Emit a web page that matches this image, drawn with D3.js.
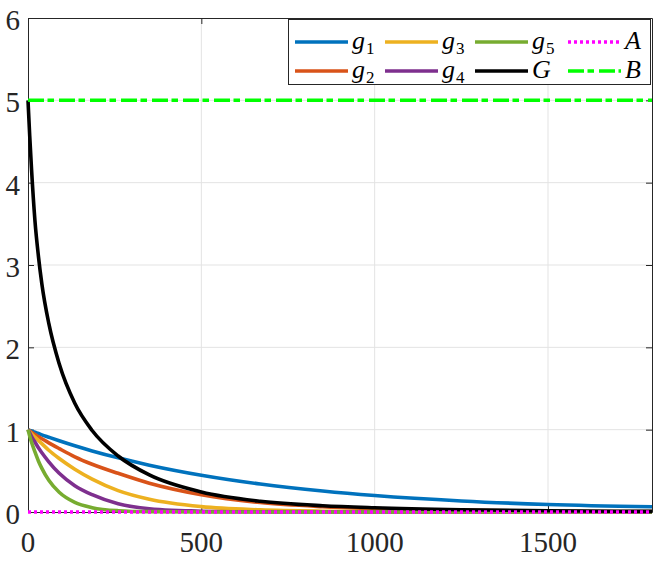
<!DOCTYPE html>
<html>
<head>
<meta charset="utf-8">
<script src="https://cdn.jsdelivr.net/npm/d3@7"></script>
<style>
  body { margin: 0; background: #fff; }
  svg { display: block; }
</style>
</head>
<body>
<svg width="653" height="561"></svg>
<script>
var serif = "'Liberation Serif', 'Times New Roman', Times, serif";

// sample points along x (time)
var xs = [0, 5, 10, 20, 30, 40, 60, 90, 135, 185, 260, 350, 500, 670, 850, 1000, 1250, 1500, 1800];
// values
var g1 = [1, 0.992, 0.984, 0.968, 0.953, 0.937, 0.908, 0.865, 0.804, 0.742, 0.658, 0.569, 0.447, 0.34, 0.255, 0.2, 0.134, 0.091, 0.063];
var g2 = [1, 0.985, 0.97, 0.94, 0.915, 0.89, 0.84, 0.77, 0.67, 0.58, 0.47, 0.35, 0.21, 0.115, 0.065, 0.04, 0.02, 0.009, 0.004];
var g3 = [1, 0.975, 0.95, 0.91, 0.87, 0.83, 0.75, 0.65, 0.52, 0.40, 0.26, 0.155, 0.065, 0.026, 0.0097, 0.0042, 0.001, 0.0003, 0];
var g4 = [1, 0.96, 0.92, 0.85, 0.78, 0.72, 0.61, 0.47, 0.32, 0.21, 0.10, 0.04, 0.01, 0.002, 0, 0, 0, 0, 0];
var g5 = [1, 0.92, 0.85, 0.73, 0.62, 0.53, 0.385, 0.24, 0.117, 0.053, 0.016, 0.004, 0.0005, 0, 0, 0, 0, 0, 0];
var G  = [5, 4.565, 4.176, 3.54, 3.11, 2.77, 2.29, 1.80, 1.32, 0.99, 0.68, 0.45, 0.243, 0.13, 0.076, 0.052, 0.028, 0.015, 0.0071];
var A = 0, B = 5;

var xTicks = [0, 500, 1000, 1500];
var yTicks = [0, 1, 2, 3, 4, 5, 6];

var series = [
  {name: "g", sub: "1", vals: g1, color: "#0072BD"},
  {name: "g", sub: "2", vals: g2, color: "#D95319"},
  {name: "g", sub: "3", vals: g3, color: "#EDB120"},
  {name: "g", sub: "4", vals: g4, color: "#7E2F8E"},
  {name: "g", sub: "5", vals: g5, color: "#77AC30"},
  {name: "G", sub: "",  vals: G,  color: "#000000"}
];

var svg = d3.select("svg");
var x = d3.scaleLinear().domain([0, 1800]).range([28, 652]);
var y = d3.scaleLinear().domain([0, 6]).range([512, 18]);

// grid
svg.append("g").selectAll("line").data(xTicks.slice(1)).enter().append("line")
  .attr("x1", function(d) { return x(d); }).attr("x2", function(d) { return x(d); })
  .attr("y1", y(0)).attr("y2", y(6))
  .attr("stroke", "#e3e3e3").attr("stroke-width", 1);
svg.append("g").selectAll("line").data(yTicks.slice(1, -1)).enter().append("line")
  .attr("y1", function(d) { return y(d); }).attr("y2", function(d) { return y(d); })
  .attr("x1", x(0)).attr("x2", x(1800))
  .attr("stroke", "#e3e3e3").attr("stroke-width", 1);

// axes box + inward ticks
var xAxisB = d3.axisBottom(x).tickValues(xTicks).tickSizeInner(-6).tickSizeOuter(0).tickFormat("");
var xAxisT = d3.axisTop(x).tickValues(xTicks).tickSizeInner(-6).tickSizeOuter(0).tickFormat("");
var yAxisL = d3.axisLeft(y).tickValues(yTicks).tickSizeInner(-6).tickSizeOuter(0).tickFormat("");
var yAxisR = d3.axisRight(y).tickValues(yTicks).tickSizeInner(-6).tickSizeOuter(0).tickFormat("");
svg.append("g").attr("transform", "translate(0," + y(0) + ")").call(xAxisB);
svg.append("g").attr("transform", "translate(0," + y(6) + ")").call(xAxisT);
svg.append("g").attr("transform", "translate(" + x(0) + ",0)").call(yAxisL);
svg.append("g").attr("transform", "translate(" + x(1800) + ",0)").call(yAxisR);
svg.selectAll(".domain, .tick line").attr("stroke", "#262626").attr("stroke-width", 1);

// tick labels
svg.append("g").selectAll("text").data(xTicks).enter().append("text")
  .attr("font-family", serif).attr("font-size", 29).attr("fill", "#262626")
  .attr("text-anchor", "middle")
  .attr("x", function(d) { return x(d); }).attr("y", 552)
  .text(function(d) { return d; });
svg.append("g").selectAll("text").data(yTicks).enter().append("text")
  .attr("font-family", serif).attr("font-size", 29).attr("fill", "#262626")
  .attr("text-anchor", "end")
  .attr("x", 20).attr("y", function(d) { return y(d) + 12; })
  .text(function(d) { return d; });

// curves
var line = d3.line()
  .x(function(d, i) { return x(xs[i]); })
  .y(function(d) { return y(d); })
  .curve(d3.curveMonotoneX);

svg.append("g").selectAll("path").data(series).enter().append("path")
  .attr("d", function(s) { return line(s.vals); })
  .attr("fill", "none")
  .attr("stroke", function(s) { return s.color; })
  .attr("stroke-width", 3.6)
  .attr("stroke-linejoin", "round");

// reference lines
svg.append("line").attr("x1", x(0)).attr("x2", x(1800)).attr("y1", y(A)).attr("y2", y(A))
  .attr("stroke", "#ff00ff").attr("stroke-width", 3.5).attr("stroke-dasharray", "3,3");
svg.append("line").attr("x1", x(0)).attr("x2", x(1800)).attr("y1", y(B)).attr("y2", y(B))
  .attr("stroke", "#00ff00").attr("stroke-width", 3.5).attr("stroke-dasharray", "16,3.5,6.5,5");

// legend
var leg = svg.append("g");
leg.append("rect").attr("x", 288.5).attr("y", 19.5).attr("width", 362).attr("height", 65)
  .attr("fill", "#fff").attr("stroke", "#262626").attr("stroke-width", 1);

var legItems = series.concat([
  {name: "A", sub: "", color: "#ff00ff", dash: "3,3"},
  {name: "B", sub: "", color: "#00ff00", dash: "16,3.5,6.5,5"}
]);
var colX = [295, 385, 475, 568];
var rowY = [42, 71];

legItems.forEach(function(d, i) {
  var cx = colX[Math.floor(i / 2)], cy = rowY[i % 2];
  leg.append("line").attr("x1", cx).attr("x2", cx + 53).attr("y1", cy).attr("y2", cy)
    .attr("stroke", d.color).attr("stroke-width", 3.5)
    .attr("stroke-dasharray", d.dash || null);
  var t = leg.append("text").attr("font-family", serif).attr("font-size", 26)
    .attr("x", cx + 57).attr("y", cy + 7);
  t.append("tspan").attr("font-style", "italic").text(d.name);
  if (d.sub) t.append("tspan").attr("font-size", 17).attr("dy", 5).attr("dx", 1).text(d.sub);
});
</script>
</body>
</html>
